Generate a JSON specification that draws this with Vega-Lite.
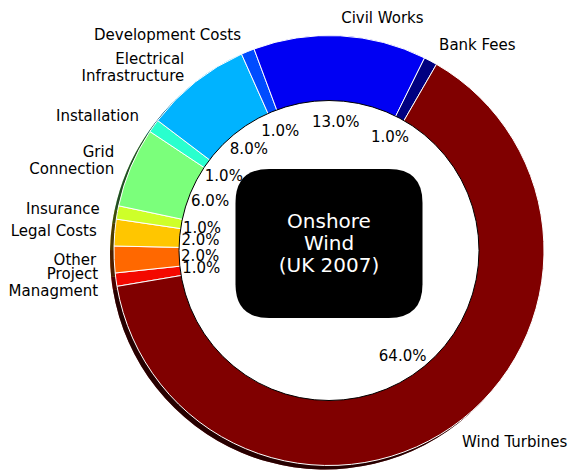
{
  "$schema": "https://vega.github.io/schema/vega-lite/v6.json",
  "width": 486,
  "height": 439,
  "padding": {"left": 86, "top": 31, "right": 0, "bottom": 0},
  "autosize": "none",
  "background": "white",
  "config": {"view": {"stroke": null}, "text": {"font": "DejaVu Sans"}},
  "data": {
    "values": [
      {"name": "Project\nManagment", "value": 1, "pct": "1.0%", "order": 1},
      {"name": "Other", "value": 2, "pct": "2.0%", "order": 2},
      {"name": "Legal Costs", "value": 2, "pct": "2.0%", "order": 3},
      {"name": "Insurance", "value": 1, "pct": "1.0%", "order": 4},
      {"name": "Grid\nConnection", "value": 6, "pct": "6.0%", "order": 5},
      {"name": "Installation", "value": 1, "pct": "1.0%", "order": 6},
      {"name": "Electrical\nInfrastructure", "value": 8, "pct": "8.0%", "order": 7},
      {"name": "Development Costs", "value": 1, "pct": "1.0%", "order": 8},
      {"name": "Civil Works", "value": 13, "pct": "13.0%", "order": 9},
      {"name": "Bank Fees", "value": 1, "pct": "1.0%", "order": 10},
      {"name": "Wind Turbines", "value": 64, "pct": "64.0%", "order": 11}
    ]
  },
  "layer": [
    {
      "mark": {"type": "arc", "outerRadius": 215, "xOffset": -4, "yOffset": 4},
      "encoding": {
        "theta": {"field": "value", "type": "quantitative", "stack": true, "scale": {"range": [4.5448, 10.828]}},
        "order": {"field": "order", "type": "quantitative"},
        "color": {
          "field": "name", "type": "nominal", "legend": null,
          "scale": {
            "domain": ["Project\nManagment", "Other", "Legal Costs", "Insurance", "Grid\nConnection", "Installation", "Electrical\nInfrastructure", "Development Costs", "Civil Works", "Bank Fees", "Wind Turbines"],
            "range": ["#f30900", "#ff6800", "#ffc600", "#ceff29", "#7bff7b", "#29ffce", "#00b3ff", "#004cff", "#0000f3", "#000080", "#800000"]
          }
        }
      }
    },
    {
      "mark": {"type": "arc", "outerRadius": 215, "xOffset": -4, "yOffset": 4, "fill": "black", "opacity": 0.7},
      "encoding": {
        "theta": {"field": "value", "type": "quantitative", "stack": true, "scale": {"range": [4.5448, 10.828]}},
        "order": {"field": "order", "type": "quantitative"}
      }
    },
    {
      "mark": {"type": "arc", "outerRadius": 215, "stroke": "white", "strokeWidth": 1},
      "encoding": {
        "theta": {"field": "value", "type": "quantitative", "stack": true, "scale": {"range": [4.5448, 10.828]}},
        "order": {"field": "order", "type": "quantitative"},
        "color": {"field": "name", "type": "nominal", "legend": null}
      }
    },
    {
      "data": {"values": [{}]},
      "mark": {"type": "point", "shape": "circle", "size": 90000, "filled": true, "fill": "white", "opacity": 1, "stroke": "black", "strokeWidth": 1},
      "encoding": {}
    },
    {
      "data": {"values": [{}]},
      "mark": {
        "type": "point", "filled": true, "fill": "black", "opacity": 1, "size": 34969, "yOffset": -7,
        "shape": "M -0.64 -0.797 L 0.64 -0.797 Q 1 -0.797 1 -0.437 L 1 0.437 Q 1 0.797 0.64 0.797 L -0.64 0.797 Q -1 0.797 -1 0.437 L -1 -0.437 Q -1 -0.797 -0.64 -0.797 Z"
      },
      "encoding": {}
    },
    {
      "data": {"values": [{}]},
      "mark": {"type": "text", "fontSize": 20, "fill": "white", "align": "center", "baseline": "middle", "lineHeight": 22, "dy": -29},
      "encoding": {"text": {"value": ["Onshore", "Wind", "(UK 2007)"]}}
    },
    {
      "mark": {"type": "text", "radius": 129, "fontSize": 15, "fill": "black", "align": "center", "baseline": "middle"},
      "encoding": {
        "theta": {"field": "value", "type": "quantitative", "stack": true, "scale": {"range": [4.5448, 10.828]}},
        "order": {"field": "order", "type": "quantitative"},
        "text": {"field": "pct"}
      }
    },
    {
      "mark": {"type": "text", "radius": 233, "fontSize": 15, "fill": "black", "align": "left", "baseline": "middle"},
      "encoding": {
        "theta": {"field": "value", "type": "quantitative", "stack": true, "scale": {"range": [4.5448, 10.828]}},
        "order": {"field": "order", "type": "quantitative"},
        "text": {"condition": {"test": "indexof(['Wind Turbines','Bank Fees','Civil Works'], datum.name) >= 0", "field": "name"}, "value": ""}
      }
    },
    {
      "mark": {"type": "text", "radius": 233, "fontSize": 15, "fill": "black", "align": "right", "baseline": "middle"},
      "encoding": {
        "theta": {"field": "value", "type": "quantitative", "stack": true, "scale": {"range": [4.5448, 10.828]}},
        "order": {"field": "order", "type": "quantitative"},
        "text": {"condition": {"test": "indexof(['Other','Legal Costs','Insurance','Installation','Development Costs'], datum.name) >= 0", "field": "name"}, "value": ""}
      }
    },
    {
      "mark": {"type": "text", "radius": 233, "fontSize": 15, "fill": "black", "align": "right", "baseline": "middle", "lineBreak": "\n", "lineHeight": 17, "dy": -8.5},
      "encoding": {
        "theta": {"field": "value", "type": "quantitative", "stack": true, "scale": {"range": [4.5448, 10.828]}},
        "order": {"field": "order", "type": "quantitative"},
        "text": {"condition": {"test": "indexof(['Project\\nManagment','Grid\\nConnection','Electrical\\nInfrastructure'], datum.name) >= 0", "field": "name"}, "value": ""}
      }
    }
  ]
}
